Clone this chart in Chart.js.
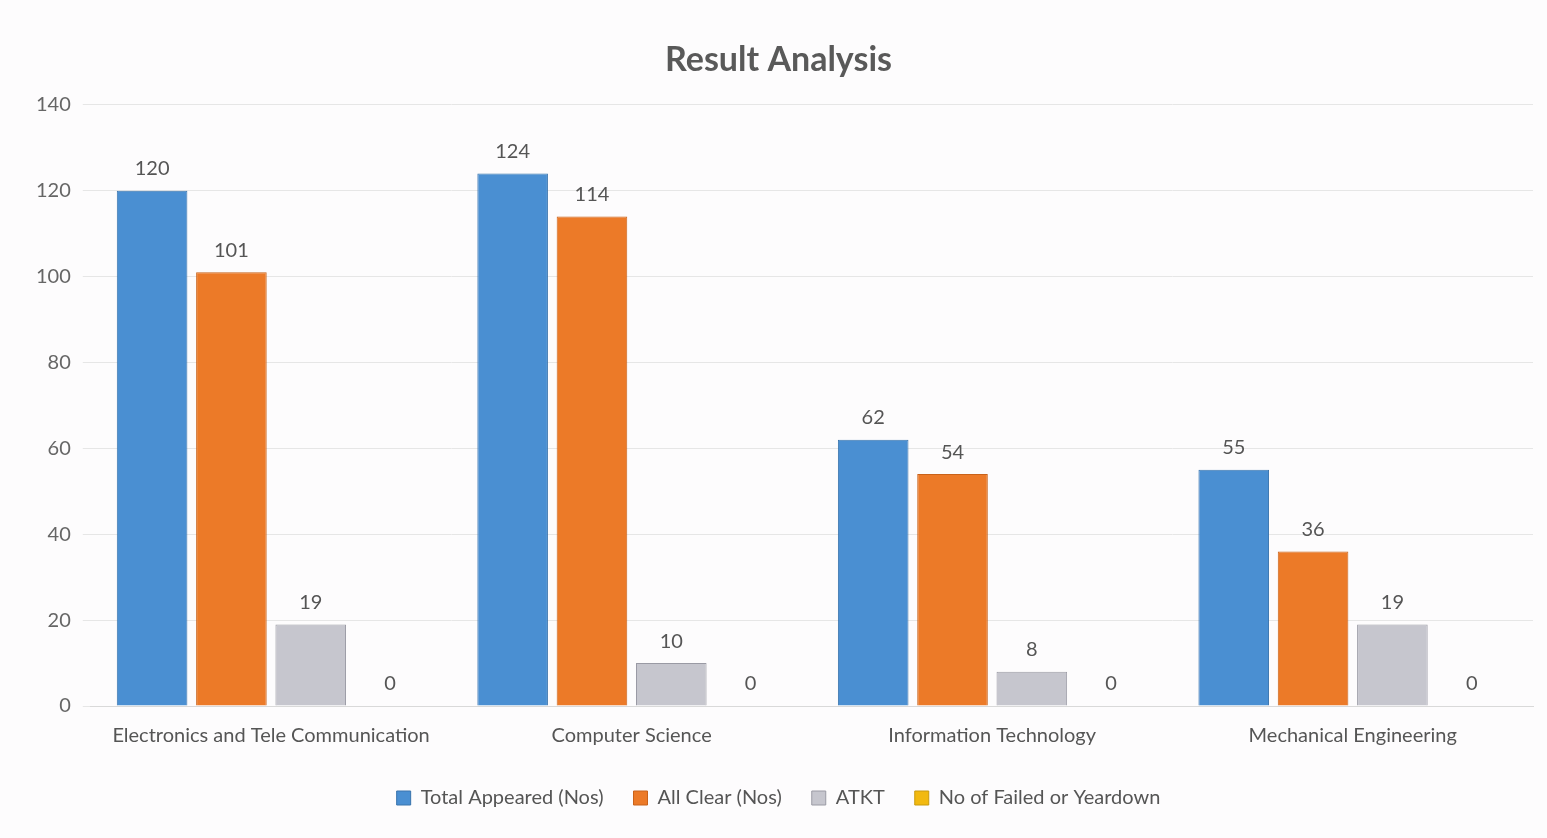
<!DOCTYPE html>
<html>
<head>
<meta charset="utf-8">
<script src="https://cdn.jsdelivr.net/npm/chart.js@4"></script>
<style>
  html, body { margin: 0; padding: 0; background: #fdfcfd; }
  #wrap { width: 1547px; height: 838px; }
</style>
</head>
<body>
<div id="wrap"><canvas id="resultChart" width="1547" height="838"></canvas></div>
<script>
const departments = ["Electronics and Tele Communication", "Computer Science", "Information Technology", "Mechanical Engineering"];
const totalAppeared = [120, 124, 62, 55];
const allClear = [101, 114, 54, 36];
const atkt = [19, 10, 8, 19];
const failedOrYeardown = [0, 0, 0, 0];
const yTicks = [0, 20, 40, 60, 80, 100, 120, 140];

// draws the number above each bar, like the excel data labels
const valueLabels = {
  id: "valueLabels",
  afterDatasetsDraw(chart) {
    const c = chart.ctx;
    c.save();
    c.font = "20px Lato";
    c.fillStyle = "#555";
    c.textAlign = "center";
    c.textBaseline = "bottom";
    chart.data.datasets.forEach((ds, i) => {
      chart.getDatasetMeta(i).data.forEach((bar, j) => {
        c.fillText(ds.data[j], bar.x, bar.y - 12);
      });
    });
    c.restore();
  }
};

const ctx = document.getElementById("resultChart").getContext("2d");
new Chart(ctx, {
  type: "bar",
  data: {
    labels: departments,
    datasets: [
      { label: "Total Appeared (Nos)", data: totalAppeared, backgroundColor: "#4a8fd2", borderColor: "#3a74ad", borderWidth: 1 },
      { label: "All Clear (Nos)", data: allClear, backgroundColor: "#ec7a28", borderColor: "#c9621a", borderWidth: 1 },
      { label: "ATKT", data: atkt, backgroundColor: "#c6c6ce", borderColor: "#9a9aa4", borderWidth: 1 },
      { label: "No of Failed or Yeardown", data: failedOrYeardown, backgroundColor: "#f2b90f", borderColor: "#c99a0c", borderWidth: 1 }
    ]
  },
  options: {
    responsive: false,
    maintainAspectRatio: false,
    animation: false,
    layout: { padding: { left: 24, right: 14, top: 18, bottom: 20 } },
    datasets: { bar: { categoryPercentage: 0.88, barPercentage: 0.89 } },
    scales: {
      x: {
        grid: { display: false },
        border: { color: "#d9d9d9" },
        ticks: { font: { size: 20, family: "Lato" }, color: "#555", padding: 10 }
      },
      y: {
        min: 0,
        max: 140,
        afterBuildTicks: axis => { axis.ticks = yTicks.map(v => ({ value: v })); },
        grid: { color: "#e6e6e6" },
        border: { display: false },
        ticks: { font: { size: 20, family: "Lato" }, color: "#666", padding: 12 }
      }
    },
    plugins: {
      title: {
        display: true,
        text: "Result Analysis",
        font: { size: 34, weight: "bold", family: "Lato" },
        color: "#595959",
        padding: { top: 22, bottom: 24 }
      },
      legend: {
        position: "bottom",
        labels: { font: { size: 20, family: "Lato" }, color: "#555", boxWidth: 14, boxHeight: 14, padding: 30 }
      },
      tooltip: { enabled: false }
    }
  },
  plugins: [valueLabels]
});
</script>
</body>
</html>
